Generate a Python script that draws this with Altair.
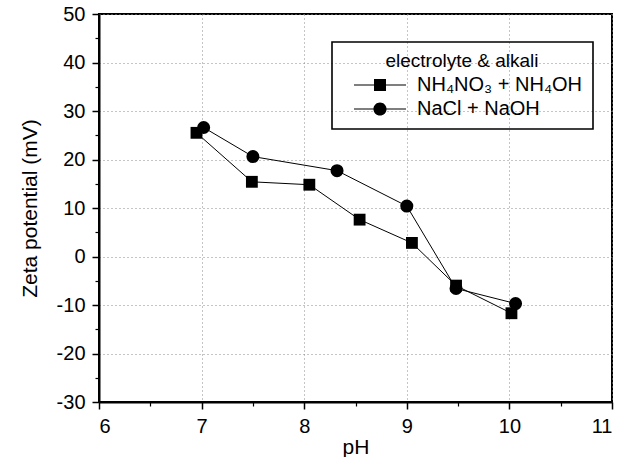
import altair as alt
import pandas as pd

series_names = ["NH₄NO₃ + NH₄OH", "NaCl + NaOH"]

ph_nh4 = [6.95, 7.49, 8.05, 8.54, 9.05, 9.48, 10.02]
zeta_nh4 = [25.5, 15.4, 14.8, 7.6, 2.8, -6.0, -11.7]

ph_na = [7.02, 7.5, 8.32, 9.0, 9.48, 10.06]
zeta_na = [26.6, 20.6, 17.7, 10.4, -6.6, -9.7]

x_ticks = [6, 7, 8, 9, 10, 11]
y_ticks = [-30, -20, -10, 0, 10, 20, 30, 40, 50]
x_minor = [6.5, 7.5, 8.5, 9.5, 10.5]
y_minor = [-25, -15, -5, 5, 15, 25, 35, 45]

rows = []
for i, (x, y) in enumerate(zip(ph_nh4, zeta_nh4)):
    rows.append({"series": series_names[0], "pH": x, "zeta": y, "order": i})
for i, (x, y) in enumerate(zip(ph_na, zeta_na)):
    rows.append({"series": series_names[1], "pH": x, "zeta": y, "order": i})
df = pd.DataFrame(rows)

FONT = "Liberation Sans"
xs = alt.Scale(domain=[6, 11], nice=False)
ys = alt.Scale(domain=[-30, 50], nice=False)

main_x = alt.X("pH:Q", title="pH", scale=xs,
               axis=alt.Axis(orient="bottom", values=x_ticks, labelExpr="'' + datum.value"))
main_y = alt.Y("zeta:Q", title="Zeta potential (mV)", scale=ys,
               axis=alt.Axis(orient="left", values=y_ticks, labelExpr="'' + datum.value"))

lines = alt.Chart(df).mark_line(color="black", strokeWidth=1).encode(
    x=main_x, y=main_y, detail="series:N", order="order:Q"
)

points = alt.Chart(df).mark_point(filled=True, color="black", opacity=1).encode(
    x=alt.X("pH:Q", scale=xs, axis=None),
    y=alt.Y("zeta:Q", scale=ys, axis=None),
    shape=alt.Shape("series:N",
                    scale=alt.Scale(domain=series_names, range=["square", "circle"]),
                    legend=None),
    size=alt.Size("series:N",
                  scale=alt.Scale(domain=series_names, range=[140, 170]),
                  legend=None),
)

# legend glyphs: marker with a line through it (filled thin bar + marker)
sq_path = ("M-3.25,-0.07H3.25V0.07H-3.25Z"
           "M-0.75,-0.75H0.75V0.75H-0.75Z")
ci_path = ("M-3.25,-0.07H3.25V0.07H-3.25Z"
           "M-0.82,0A0.82,0.82 0 1,1 0.82,0A0.82,0.82 0 1,1 -0.82,0Z")

minor_axis = dict(domain=False, labels=False, grid=False, title=None,
                  tickSize=4, tickWidth=1.2, tickColor="black")

legend_layer = alt.Chart(df).mark_point(
    filled=True, color="black", opacity=0
).encode(
    x=alt.X("pH:Q", scale=xs, axis=alt.Axis(orient="bottom", values=x_minor, **minor_axis)),
    y=alt.Y("zeta:Q", scale=ys, axis=alt.Axis(orient="left", values=y_minor, **minor_axis)),
    shape=alt.Shape("series:N",
                    scale=alt.Scale(domain=series_names, range=[sq_path, ci_path]),
                    legend=alt.Legend(
                        title="electrolyte & alkali",
                        orient="none", legendX=233, legendY=28,
                        direction="vertical",
                        symbolSize=256, symbolOpacity=1,
                        symbolFillColor="black", symbolStrokeWidth=0,
                        symbolOffset=28, labelOffset=27, labelLimit=400,
                        strokeColor="black", padding=10,
                        titleFont=FONT, titleFontSize=19, titleFontWeight="normal",
                        titleColor="black", titleAnchor="middle",
                        labelFont=FONT, labelFontSize=20, labelColor="black",
                        rowPadding=4, titlePadding=4,
                    )),
)

chart = alt.layer(lines, points, legend_layer).resolve_scale(
    shape="independent", size="independent"
).resolve_axis(
    x="independent", y="independent"
).properties(
    width=513, height=388,
    autosize=alt.AutoSizeParams(type="none"),
    padding={"left": 99, "top": 14, "right": 20, "bottom": 55},
).configure_view(
    stroke="black", strokeWidth=2
).configure_legend(
    strokeWidth=1.6
).configure_axis(
    domainColor="black", domainWidth=2,
    tickColor="black", tickWidth=1.5, tickSize=7,
    labelFont=FONT, labelFontSize=20, labelColor="black",
    titleFont=FONT, titleFontSize=21, titleFontWeight="normal", titleColor="black",
    grid=True, gridColor="#8a8a8a", gridDash=[1, 3], gridWidth=1,
    labelPadding=7,
).configure_axisX(
    titlePadding=0,
).configure_axisY(
    titlePadding=16,
)

chart.save("out.html", embed_options={"renderer": "svg", "actions": False})
